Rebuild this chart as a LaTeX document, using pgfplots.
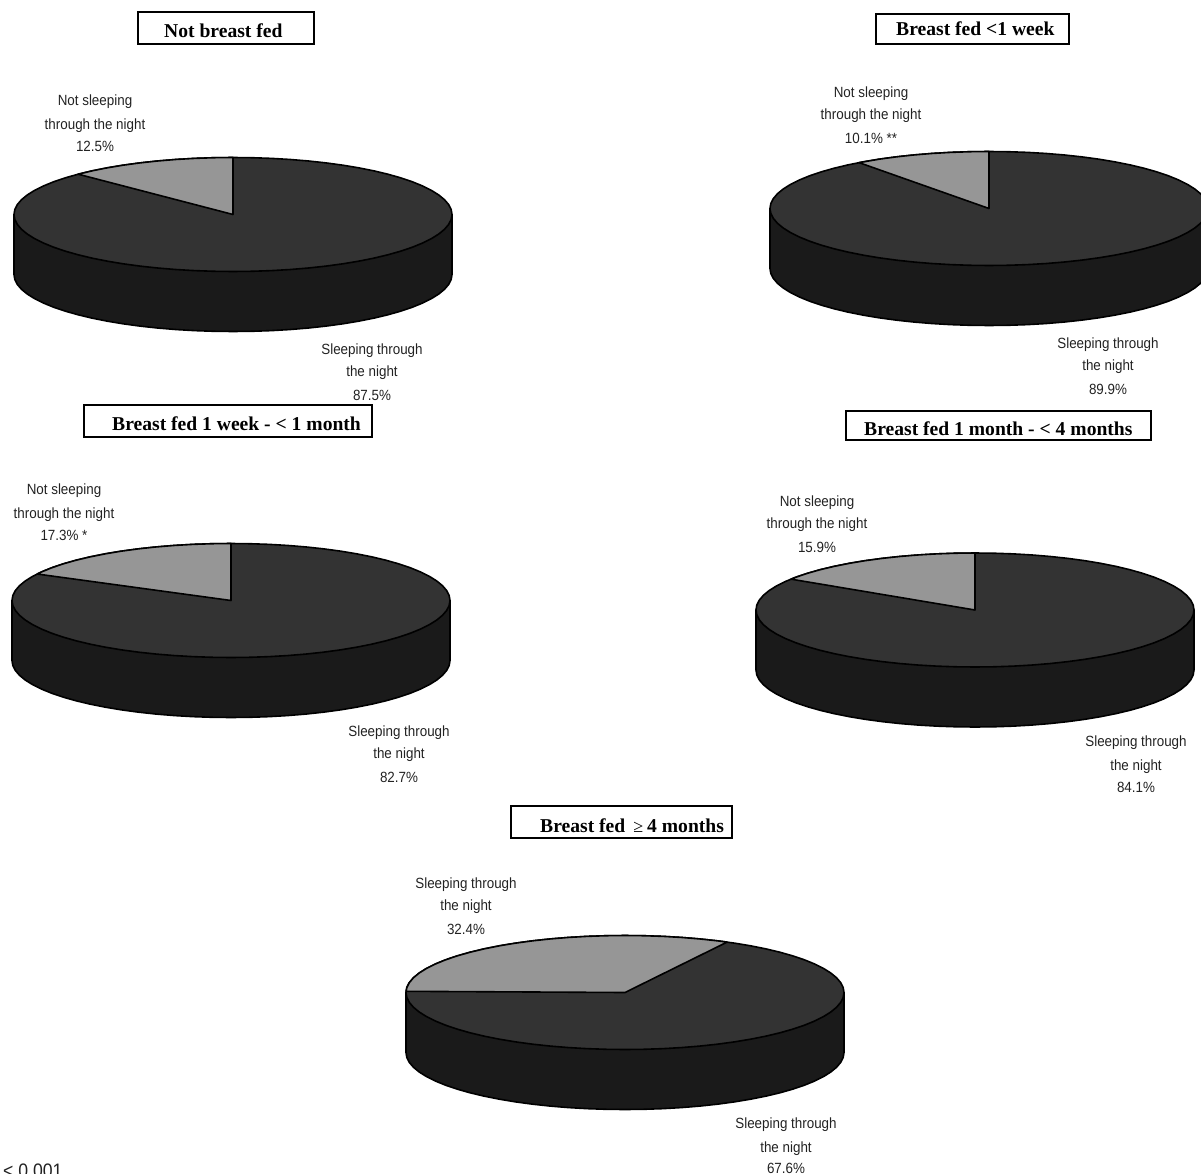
\documentclass[border=0pt]{standalone}
\usepackage{pgfplots}
\usepackage{pgfplotstable}
\usepackage{fontspec}
\pgfplotsset{compat=1.18}
\setmainfont{Liberation Sans}
\newfontfamily\labfont{Liberation Sans}[FakeStretch=0.905]
\newfontfamily\titlefont{Liberation Serif}
% Angles in degrees clockwise from 12 o'clock; r = radius share; d = depth share
\pgfplotstableread{
t r d
0 1 0
5 1 0
10 1 0
15 1 0
20 1 0
25 1 0
30 1 0
35 1 0
40 1 0
45 1 0
50 1 0
55 1 0
60 1 0
65 1 0
70 1 0
75 1 0
80 1 0
85 1 0
90 1 0
95 1 0
100 1 0
105 1 0
110 1 0
115 1 0
120 1 0
125 1 0
130 1 0
135 1 0
140 1 0
145 1 0
150 1 0
155 1 0
160 1 0
165 1 0
170 1 0
175 1 0
180 1 0
185 1 0
190 1 0
195 1 0
200 1 0
205 1 0
210 1 0
215 1 0
220 1 0
225 1 0
230 1 0
235 1 0
240 1 0
245 1 0
250 1 0
255 1 0
260 1 0
265 1 0
270 1 0
275 1 0
280 1 0
285 1 0
290 1 0
295 1 0
300 1 0
305 1 0
310 1 0
315 1 0
320 1 0
325 1 0
330 1 0
335 1 0
340 1 0
345 1 0
350 1 0
355 1 0
360 1 0
}\toprim
\pgfplotstableread{
t r d
90 1 0
90 1 1
95 1 1
100 1 1
105 1 1
110 1 1
115 1 1
120 1 1
125 1 1
130 1 1
135 1 1
140 1 1
145 1 1
150 1 1
155 1 1
160 1 1
165 1 1
170 1 1
175 1 1
180 1 1
185 1 1
190 1 1
195 1 1
200 1 1
205 1 1
210 1 1
215 1 1
220 1 1
225 1 1
230 1 1
235 1 1
240 1 1
245 1 1
250 1 1
255 1 1
260 1 1
265 1 1
270 1 1
270 1 0
}\siderim
% wedge of 12.5%
\pgfplotstableread{
t r d
0 0 0
315 1 0
320 1 0
325 1 0
330 1 0
335 1 0
340 1 0
345 1 0
350 1 0
355 1 0
360 1 0
}\wedgeA
% wedge of 10.1%
\pgfplotstableread{
t r d
0 0 0
323.6 1 0
330 1 0
335 1 0
340 1 0
345 1 0
350 1 0
355 1 0
360 1 0
}\wedgeB
% wedge of 17.3%
\pgfplotstableread{
t r d
0 0 0
297.7 1 0
300 1 0
305 1 0
310 1 0
315 1 0
320 1 0
325 1 0
330 1 0
335 1 0
340 1 0
345 1 0
350 1 0
355 1 0
360 1 0
}\wedgeC
% wedge of 15.9%
\pgfplotstableread{
t r d
0 0 0
302.8 1 0
305 1 0
310 1 0
315 1 0
320 1 0
325 1 0
330 1 0
335 1 0
340 1 0
345 1 0
350 1 0
355 1 0
360 1 0
}\wedgeD
% wedge of 32.4%
\pgfplotstableread{
t r d
0 0 0
271.2 1 0
275 1 0
280 1 0
285 1 0
290 1 0
295 1 0
300 1 0
305 1 0
310 1 0
315 1 0
320 1 0
325 1 0
330 1 0
335 1 0
340 1 0
345 1 0
350 1 0
355 1 0
360 1 0
365 1 0
370 1 0
375 1 0
380 1 0
385 1 0
387.8 1 0
}\wedgeE
\definecolor{pietop}{HTML}{333333}
\definecolor{pieside}{HTML}{1A1A1A}
\definecolor{piewedge}{HTML}{969696}
\definecolor{labcol}{HTML}{222222}
\newcommand{\pieplot}[3]{%
  \addplot[draw=black,line width=1.6pt,line join=round,fill=pieside]
    table[x expr=#1+219*\thisrow{r}*sin(\thisrow{t}),
          y expr=#2-57*\thisrow{r}*cos(\thisrow{t})+60*\thisrow{d}] {\siderim} --cycle;
  \addplot[draw=black,line width=1.6pt,line join=round,fill=pietop]
    table[x expr=#1+219*\thisrow{r}*sin(\thisrow{t}),
          y expr=#2-57*\thisrow{r}*cos(\thisrow{t})+60*\thisrow{d}] {\toprim} --cycle;
  \addplot[draw=black,line width=1.6pt,line join=round,fill=piewedge]
    table[x expr=#1+219*\thisrow{r}*sin(\thisrow{t}),
          y expr=#2-57*\thisrow{r}*cos(\thisrow{t})+60*\thisrow{d}] {#3} --cycle;
}
\newcommand{\lab}[3]{\node[anchor=base,inner sep=0pt,text=labcol,font=\labfont\fontsize{14.8}{15}\selectfont] at (axis cs:#1,#2+5) {#3};}
\newcommand{\ttl}[7]{%
  \draw[black,line width=1.5pt] (axis cs:#1,#2) rectangle (axis cs:#3,#4);
  \node[anchor=base west,inner sep=0pt,font=\titlefont\bfseries\fontsize{19.6}{20}\selectfont] at (axis cs:#5,#6) {#7};}
\begin{document}
\begin{tikzpicture}
\useasboundingbox (0,0) rectangle (1201pt,1174pt);
\begin{axis}[
  hide axis, scale only axis, width=1201pt, height=1174pt,
  xmin=0, xmax=1201, ymin=0, ymax=1174, y dir=reverse,
  clip=true, no markers]
\pieplot{233}{214.5}{\wedgeA}
\pieplot{989}{208.5}{\wedgeB}
\pieplot{231}{600.5}{\wedgeC}
\pieplot{975}{610}{\wedgeD}
\pieplot{625}{992.5}{\wedgeE}
\ttl{138}{12}{314}{44}{164}{38}{Not breast fed}
\ttl{876}{14}{1069}{44}{896}{36}{Breast fed <1 week}
\ttl{84}{405}{372}{437}{112}{430}{Breast fed 1 week - < 1 month}
\ttl{846}{411}{1151}{440}{864}{435}{Breast fed 1 month - < 4 months}
\ttl{511}{806}{732}{838}{540}{832}{Breast fed\hspace{8pt}{\mdseries\fontsize{18}{18}\selectfont ≥}\hspace{4pt}4 months}
\lab{95}{101}{Not sleeping}\lab{95}{125}{through the night}\lab{95}{147}{12.5\%}
\lab{372}{349}{Sleeping through}\lab{372}{371}{the night}\lab{372}{395}{87.5\%}
\lab{871}{93}{Not sleeping}\lab{871}{115}{through the night}\lab{871}{139}{10.1\% **}
\lab{1108}{343}{Sleeping through}\lab{1108}{365}{the night}\lab{1108}{389}{89.9\%}
\lab{64}{489}{Not sleeping}\lab{64}{513}{through the night}\lab{64}{535}{17.3\% *}
\lab{399}{731}{Sleeping through}\lab{399}{753}{the night}\lab{399}{777}{82.7\%}
\lab{817}{501}{Not sleeping}\lab{817}{523}{through the night}\lab{817}{547}{15.9\%}
\lab{1136}{741}{Sleeping through}\lab{1136}{765}{the night}\lab{1136}{787}{84.1\%}
\lab{466}{883}{Sleeping through}\lab{466}{905}{the night}\lab{466}{929}{32.4\%}
\lab{786}{1123}{Sleeping through}\lab{786}{1147}{the night}\lab{786}{1168}{67.6\%}
\node[anchor=base west,inner sep=0pt,font=\labfont\fontsize{19.5}{20}\selectfont,text=labcol] at (axis cs:3,1177) {< 0.001};
\end{axis}
\end{tikzpicture}
\end{document}
